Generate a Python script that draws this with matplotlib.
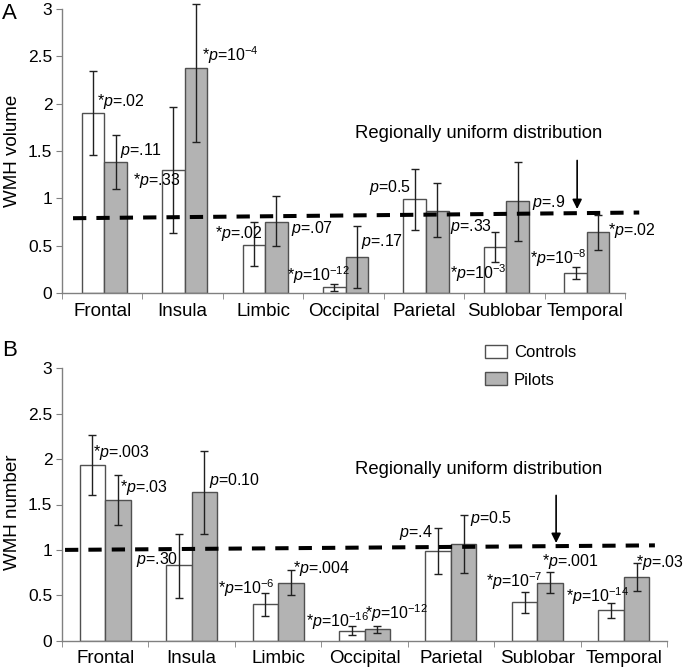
import matplotlib
matplotlib.use("Agg")
import matplotlib.pyplot as plt
import numpy as np

plt.rcParams['font.family'] = ['Liberation Sans', 'DejaVu Sans']
plt.rcParams['mathtext.fontset'] = 'custom'
plt.rcParams['mathtext.rm'] = 'Liberation Sans'
plt.rcParams['mathtext.it'] = 'Liberation Sans:italic'
plt.rcParams['mathtext.default'] = 'regular'

regions = ['Frontal', 'Insula', 'Limbic', 'Occipital', 'Parietal', 'Sublobar', 'Temporal']
yticks = [0, 0.5, 1, 1.5, 2, 2.5, 3]
ytick_labels = ['0', '0.5', '1', '1.5', '2', '2.5', '3']

# Panel A: WMH volume
vol_controls = [1.90, 1.30, 0.51, 0.06, 0.99, 0.49, 0.21]
vol_controls_lo = [1.46, 0.63, 0.29, 0.02, 0.665, 0.33, 0.15]
vol_controls_hi = [2.35, 1.96, 0.75, 0.10, 1.31, 0.64, 0.27]
vol_pilots = [1.38, 2.38, 0.75, 0.38, 0.87, 0.97, 0.64]
vol_pilots_lo = [1.10, 1.59, 0.50, 0.05, 0.59, 0.55, 0.45]
vol_pilots_hi = [1.67, 3.05, 1.02, 0.71, 1.16, 1.38, 0.82]
vol_uniform = [0.79, 0.85]

# Panel B: WMH number
num_controls = [1.93, 0.83, 0.40, 0.11, 0.99, 0.43, 0.34]
num_controls_lo = [1.60, 0.47, 0.27, 0.06, 0.73, 0.30, 0.25]
num_controls_hi = [2.26, 1.18, 0.52, 0.16, 1.24, 0.54, 0.42]
num_pilots = [1.55, 1.64, 0.64, 0.125, 1.07, 0.64, 0.70]
num_pilots_lo = [1.27, 1.18, 0.50, 0.08, 0.75, 0.52, 0.55]
num_pilots_hi = [1.83, 2.09, 0.78, 0.16, 1.38, 0.76, 0.86]
num_uniform = [1.00, 1.05]

# p-value annotations: (star, value text, is exponent)
vol_plabels = [
    (True, '.02', False), (False, '.11', False), (True, '.33', False),
    (True, '-4', True), (True, '.02', False), (False, '.07', False),
    (True, '-12', True), (False, '.17', False), (False, '0.5', False),
    (False, '.33', False), (True, '-3', True), (False, '.9', False),
    (True, '-8', True), (True, '.02', False),
]
vol_plabel_pos = [
    (-0.065, 2.02), (0.221, 1.51), (0.383, 1.19), (1.241, 2.51),
    (1.403, 0.63), (2.348, 0.68), (2.30, 0.19), (3.219, 0.54),
    (3.318, 1.11), (4.326, 0.70), (4.326, 0.21), (5.346, 0.96),
    (5.32, 0.37), (6.29, 0.655),
]
num_plabels = [
    (True, '.003', False), (True, '.03', False), (False, '0.10', False),
    (False, '.30', False), (True, '-6', True), (True, '.004', False),
    (True, '-16', True), (True, '-12', True), (False, '.4', False),
    (False, '0.5', False), (True, '-7', True), (True, '.001', False),
    (True, '-14', True), (True, '.03', False),
]
num_plabel_pos = [
    (-0.141, 2.07), (0.171, 1.69), (1.201, 1.76), (0.356, 0.89),
    (1.306, 0.58), (2.174, 0.80), (2.324, 0.21), (3.007, 0.305),
    (3.40, 1.19), (4.222, 1.35), (4.407, 0.66), (5.056, 0.87),
    (5.333, 0.49), (6.14, 0.86),
]


def ptext(star, val, expo):
    s = ('*' if star else '') + r'$\mathit{p}$='
    if expo:
        s += '10$^{' + val + '}$'
    else:
        s += val
    return s


W, H = 685, 670
fig = plt.figure(figsize=(W / 100, H / 100), dpi=100)

axA = fig.add_axes([62 / W, 1 - 293 / H, (625 - 62) / W, (293 - 9) / H])
axB = fig.add_axes([62 / W, 1 - 640.7 / H, (667 - 62) / W, (640.7 - 368.3) / H])

edge = '#505050'
spine_c = '#808080'


def draw(ax, c, clo, chi, p, plo, phi, offset, width, uniform, dash_x, labels, lpos,
         ylabel, ylab_xy, arrow_x, arrow_y, text_xy):
    x = np.arange(len(regions))
    c = np.array(c); p = np.array(p)
    ax.bar(x + offset - width / 2, c, width, color='white', edgecolor=edge, linewidth=1.0,
           label='Controls', zorder=2)
    ax.bar(x + offset + width / 2, p, width, color='#b3b3b3', edgecolor=edge, linewidth=1.0,
           label='Pilots', zorder=2)
    for xx, v, lo, hi in ((x + offset - width / 2, c, clo, chi), (x + offset + width / 2, p, plo, phi)):
        eb = ax.errorbar(xx, v, yerr=[v - np.array(lo), np.array(hi) - v],
                         fmt='none', ecolor='#202020', elinewidth=1.0, capsize=3,
                         capthick=1.0, zorder=3)
        for art in list(eb.lines[1]) + list(eb.lines[2]):
            art.set_clip_on(False)
    ax.plot(dash_x, uniform, color='black', linestyle=(0, (3.3, 2.5)), linewidth=2.9,
            clip_on=False, zorder=4)
    for (st, v, e), (lx, ly) in zip(labels, lpos):
        ax.text(lx, ly, ptext(st, v, e), fontsize=11.5, ha='left', va='center', zorder=5)
    ax.annotate('', xy=(arrow_x, arrow_y[1]), xytext=(arrow_x, arrow_y[0]),
                arrowprops=dict(arrowstyle='-|>', color='black', lw=1.2,
                                mutation_scale=14, shrinkA=0, shrinkB=0))
    ax.text(text_xy[0], text_xy[1], 'Regionally uniform distribution', fontsize=13.3,
            ha='center', va='center')
    ax.set_xlim(-0.5, len(regions) - 0.5)
    ax.set_ylim(0, 3)
    ax.set_yticks(yticks)
    ax.set_yticklabels(ytick_labels, fontsize=12.5)
    ax.set_xticks(x)
    ax.set_xticklabels(regions, fontsize=13.5)
    ax.set_xticks(np.arange(-0.5, len(regions)), minor=True)
    ax.tick_params(axis='x', which='major', length=0, pad=7)
    ax.tick_params(axis='x', which='minor', length=4, color=spine_c, direction='out')
    ax.tick_params(axis='y', length=4, color=spine_c, direction='out', pad=3)
    for s in ['top', 'right']:
        ax.spines[s].set_visible(False)
    for s in ['left', 'bottom']:
        ax.spines[s].set_color(spine_c)
        ax.spines[s].set_linewidth(1.0)
    ax.set_ylabel(ylabel, fontsize=13.5)
    ax.yaxis.set_label_coords(*ylab_xy)


draw(axA, vol_controls, vol_controls_lo, vol_controls_hi, vol_pilots, vol_pilots_lo, vol_pilots_hi,
     0.026, 0.28, vol_uniform, [-0.363, 6.677], vol_plabels, vol_plabel_pos,
     'WMH volume', (-0.073, 0.5), 5.905, (1.40, 0.887), (4.674, 1.69))
draw(axB, num_controls, num_controls_lo, num_controls_hi, num_pilots, num_pilots_lo, num_pilots_hi,
     0.0, 0.295, num_uniform, [-0.465, 6.36], num_plabels, num_plabel_pos,
     'WMH number', (-0.068, 0.47), 5.217, (1.60, 1.076), (4.315, 1.88))

handles, labs = axB.get_legend_handles_labels()
fig.legend(handles, labs, loc='upper left', bbox_to_anchor=(485 / W, 1 - 345 / H),
           frameon=False, fontsize=12, handlelength=1.32, handleheight=0.85,
           handletextpad=0.4, labelspacing=0.7, borderpad=0, borderaxespad=0)

fig.text(2 / W, 1 - 3 / H, 'A', fontsize=16, ha='left', va='top')
fig.text(2 / W, 1 - 340 / H, 'B', fontsize=16, ha='left', va='top')

fig.savefig('out.png', dpi=100)
